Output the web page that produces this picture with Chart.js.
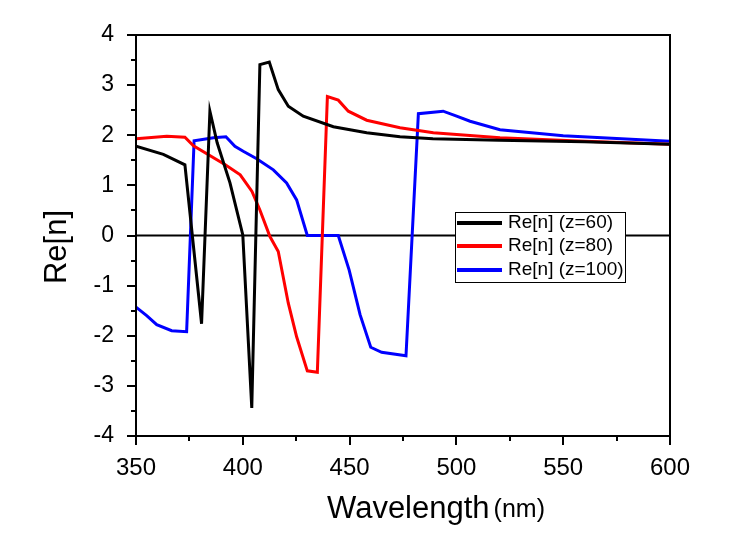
<!DOCTYPE html>
<html>
<head>
<meta charset="utf-8">
<script src="https://cdn.jsdelivr.net/npm/chart.js@4/dist/chart.umd.min.js"></script>
<style>
  html, body { margin: 0; padding: 0; background: #fff; }
  #wrap { width: 733px; height: 533px; }
</style>
</head>
<body>
<div id="wrap"><canvas id="graphCanvas" width="733" height="533"></canvas></div>
<script>
// values
var wl60 = [350, 362.8, 372.9, 380.7, 384.6, 388, 394, 400, 404.2, 408, 412.4, 416.6, 421.3, 428.3, 442.4, 458, 473.6, 489, 520, 560, 600];
var re60 = [1.78, 1.62, 1.41, -1.76, 2.48, 1.85, 1.05, 0.01, -3.44, 3.41, 3.46, 2.91, 2.58, 2.38, 2.17, 2.05, 1.97, 1.93, 1.90, 1.87, 1.82];

var wl80 = [350, 364.4, 372.9, 376.9, 391.8, 398.8, 404.3, 408, 412.7, 416.6, 421.3, 425.2, 430.2, 434.9, 439.6, 444.7, 449.4, 458, 473.6, 489.2, 520.4, 560, 600];
var re80 = [1.93, 1.98, 1.96, 1.79, 1.41, 1.21, 0.88, 0.51, -0.02, -0.32, -1.35, -2.02, -2.70, -2.73, 2.77, 2.70, 2.48, 2.30, 2.15, 2.05, 1.95, 1.88, 1.82];

var wl100 = [350, 355, 359.7, 366.7, 373.7, 377.2, 386.3, 392.1, 396.3, 400.2, 406.5, 414.3, 420.5, 425.2, 430.2, 444.7, 449.8, 454.9, 459.9, 465, 476.4, 482.2, 493.8, 500.1, 506.4, 520.4, 550, 600];
var re100 = [-1.43, -1.60, -1.78, -1.90, -1.92, 1.89, 1.95, 1.97, 1.78, 1.68, 1.53, 1.31, 1.05, 0.71, 0.00, 0.00, -0.69, -1.58, -2.23, -2.33, -2.40, 2.43, 2.48, 2.38, 2.28, 2.11, 1.99, 1.88];

var seriesLabels = ['Re[n] (z=60)', 'Re[n] (z=80)', 'Re[n] (z=100)'];
var seriesColors = ['#000000', '#ff0000', '#0000ff'];

var xTitle = 'Wavelength';
var xUnit = '(nm)';
var yTitle = 'Re[n]';

function pts(xs, ys) {
  var out = [];
  for (var i = 0; i < xs.length; i++) out.push({x: xs[i], y: ys[i]});
  return out;
}

var FONT = '"Liberation Sans", Arial, sans-serif';

var decorPlugin = {
  id: 'decor',
  beforeDraw: function (chart) {
    var c = chart.ctx;
    c.save();
    c.fillStyle = '#fff';
    c.fillRect(0, 0, chart.width, chart.height);
    c.restore();
  },
  beforeDatasetsDraw: function (chart) {
    var c = chart.ctx, a = chart.chartArea;
    var y0 = chart.scales.y.getPixelForValue(0);
    c.save();
    c.strokeStyle = '#000';
    c.lineWidth = 2;
    c.beginPath();
    c.moveTo(a.left, y0);
    c.lineTo(a.right, y0);
    c.stroke();
    c.restore();
  },
  afterDraw: function (chart) {
    var c = chart.ctx, a = chart.chartArea;
    var xs = chart.scales.x, ys = chart.scales.y;
    c.save();
    c.strokeStyle = '#000';
    c.lineWidth = 2;
    c.strokeRect(a.left, a.top, a.right - a.left, a.bottom - a.top);

    // ticks, longer ones where there is a label
    c.beginPath();
    xs.ticks.forEach(function (t) {
      var px = Math.round(xs.getPixelForValue(t.value));
      var len = t.label !== '' ? 9 : 5;
      c.moveTo(px, a.bottom);
      c.lineTo(px, a.bottom + len);
    });
    ys.ticks.forEach(function (t) {
      var py = Math.round(ys.getPixelForValue(t.value));
      var len = t.label !== '' ? 9 : 5;
      c.moveTo(a.left, py);
      c.lineTo(a.left - len, py);
    });
    c.stroke();

    // axis titles
    c.fillStyle = '#000';
    c.textBaseline = 'alphabetic';
    c.font = '31px ' + FONT;
    var w1 = c.measureText(xTitle).width;
    c.font = '25px ' + FONT;
    var w2 = c.measureText(xUnit).width;
    var gap = 4;
    var cx = 436;
    var sx = cx - (w1 + gap + w2) / 2;
    c.font = '31px ' + FONT;
    c.textAlign = 'left';
    c.fillText(xTitle, sx, 518);
    c.font = '25px ' + FONT;
    c.fillText(xUnit, sx + w1 + gap, 517);

    c.save();
    c.translate(66, 247);
    c.rotate(-Math.PI / 2);
    c.textAlign = 'center';
    c.font = '31px ' + FONT;
    c.fillText(yTitle, 0, 0);
    c.restore();

    // legend box
    var bx = 455, by = 212, bw = 170, bh = 70;
    c.fillStyle = '#fff';
    c.fillRect(bx, by, bw, bh);
    c.lineWidth = 1;
    c.strokeRect(bx + 0.5, by + 0.5, bw, bh);
    var rows = [223, 246, 270];
    chart.data.datasets.forEach(function (ds, i) {
      c.strokeStyle = ds.borderColor;
      c.lineWidth = 4;
      c.beginPath();
      c.moveTo(457, rows[i]);
      c.lineTo(502, rows[i]);
      c.stroke();
      c.fillStyle = '#000';
      c.font = '19px ' + FONT;
      c.textAlign = 'left';
      c.textBaseline = 'middle';
      c.fillText(ds.label, 508, rows[i]);
    });
    c.restore();
  }
};

var chartdata = {
  datasets: [
    { label: seriesLabels[0], data: pts(wl60, re60), borderColor: seriesColors[0], backgroundColor: seriesColors[0] },
    { label: seriesLabels[1], data: pts(wl80, re80), borderColor: seriesColors[1], backgroundColor: seriesColors[1] },
    { label: seriesLabels[2], data: pts(wl100, re100), borderColor: seriesColors[2], backgroundColor: seriesColors[2] }
  ]
};

var graphTarget = document.getElementById('graphCanvas');

var lineGraph = new Chart(graphTarget, {
  type: 'line',
  data: chartdata,
  plugins: [decorPlugin],
  options: {
    responsive: false,
    animation: false,
    layout: { padding: { top: 35, right: 63, left: 0, bottom: 0 } },
    elements: {
      line: { borderWidth: 3, tension: 0, borderJoinStyle: 'miter' },
      point: { radius: 0 }
    },
    plugins: { legend: { display: false }, tooltip: { enabled: false } },
    scales: {
      x: {
        type: 'linear',
        min: 350, max: 600,
        grid: { display: false },
        border: { display: true, color: '#000', width: 2 },
        afterFit: function (s) { s.height = 97; },
        ticks: {
          stepSize: 25, autoSkip: false, maxRotation: 0, padding: 10,
          color: '#000', font: { family: FONT, size: 24 },
          callback: function (v) { return v % 50 === 0 ? String(v) : ''; }
        }
      },
      y: {
        min: -4, max: 4,
        grid: { display: false },
        border: { display: true, color: '#000', width: 2 },
        afterFit: function (s) { s.width = 136; },
        ticks: {
          stepSize: 0.5, autoSkip: false, padding: 14,
          color: '#000', font: { family: FONT, size: 23 },
          callback: function (v) { return Number.isInteger(v) ? String(v) : ''; }
        }
      }
    }
  }
});
</script>
</body>
</html>
